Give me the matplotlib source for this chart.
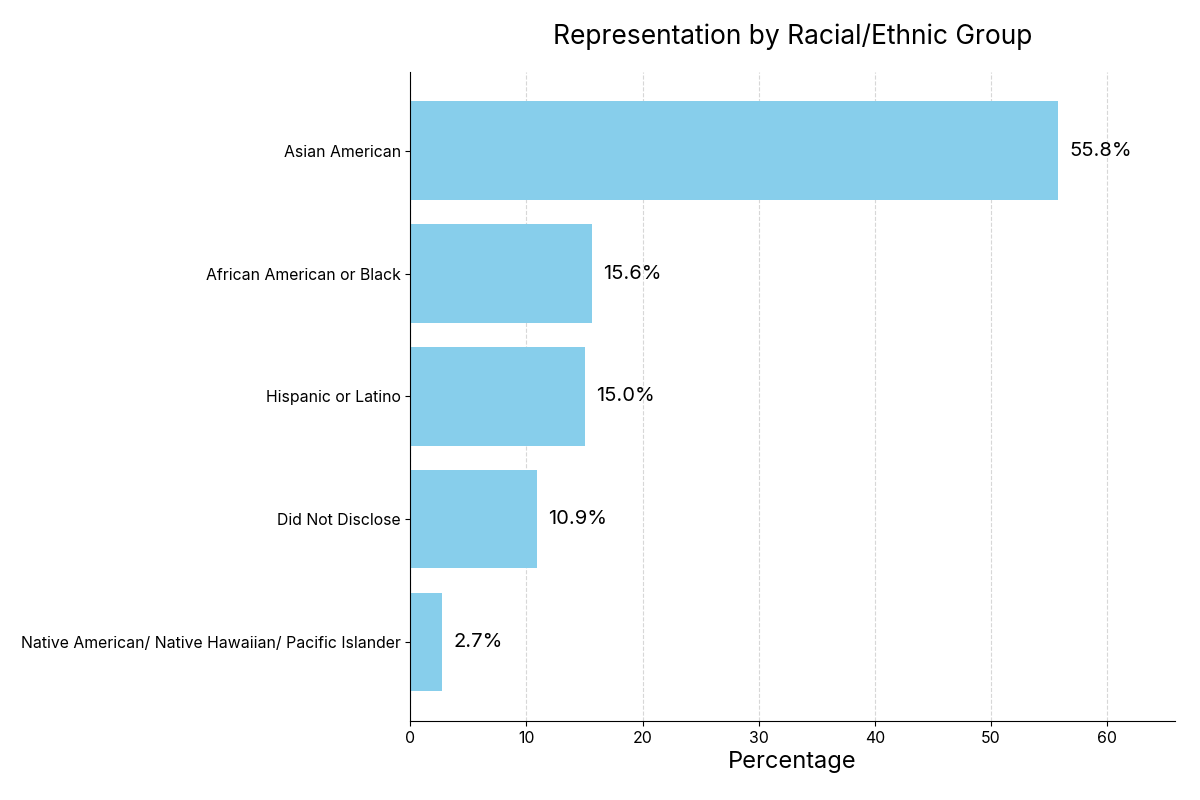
import matplotlib
matplotlib.use("Agg")
import matplotlib.pyplot as plt

plt.rcParams['font.family'] = ['Inter', 'DejaVu Sans']

groups = ["Asian American", "African American or Black", "Hispanic or Latino",
          "Did Not Disclose", "Native American/ Native Hawaiian/ Pacific Islander"]
percents = [55.8, 15.6, 15.0, 10.9, 2.7]

fig, ax = plt.subplots(figsize=(12, 8), dpi=100)
fig.subplots_adjust(left=0.342, right=0.979, top=0.91, bottom=0.099)

bars = ax.barh(groups, percents, height=0.8, color="skyblue", zorder=2)
ax.invert_yaxis()

for b, v in zip(bars, percents):
    ax.text(b.get_width() + 1, b.get_y() + b.get_height() / 2, f"{v}%",
            va="center", ha="left", fontsize=14.5)

ax.set_xlim(0, max(percents) * 1.18)
ax.set_title("Representation by Racial/Ethnic Group", fontsize=19, pad=20)
ax.set_xlabel("Percentage", fontsize=17)
ax.tick_params(axis="both", labelsize=11.4)
ax.grid(axis="x", linestyle="--", color="lightgray", alpha=0.9, zorder=0)
ax.spines["top"].set_visible(False)
ax.spines["right"].set_visible(False)

fig.savefig("out.png", dpi=100)
